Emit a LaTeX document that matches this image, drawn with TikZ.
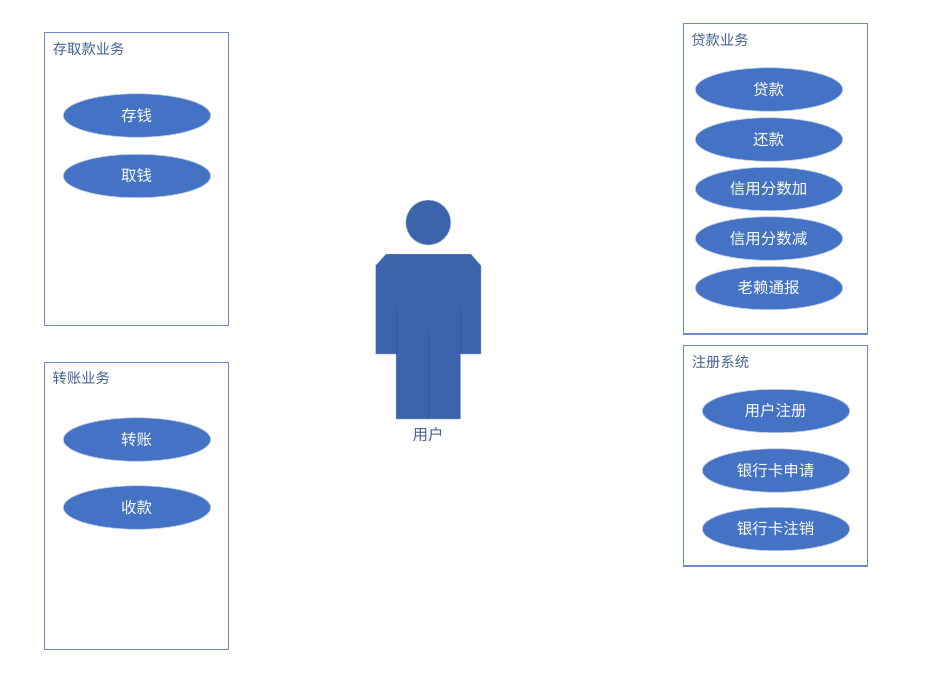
\documentclass[tikz,border=0pt]{standalone}
\usepackage{fontspec}
\setmainfont{Noto Sans CJK SC}
\usetikzlibrary{shapes.geometric}
\definecolor{fillblue}{HTML}{4472C4}
\definecolor{manblue}{HTML}{3C64AA}
\definecolor{manline}{HTML}{35598F}
\definecolor{boxline}{HTML}{6E8BBF}
\definecolor{titleblue}{HTML}{44608F}
\definecolor{halo}{HTML}{C4D1E8}
\tikzset{
  groupbox/.style={draw=boxline,line width=1.2pt,fill=white},
  usecase/.style={ellipse,draw=halo,line width=0.7pt,fill=fillblue,text=white,minimum width=147.5pt,minimum height=43.5pt,inner sep=0pt,font=\fontsize{15.5}{15.5}\selectfont},
  grouptitle/.style={anchor=west,text=titleblue,inner sep=0pt,font=\fontsize{14.3}{14.3}\selectfont},
  manpart/.style={fill=manblue,draw=halo,line width=0.4pt},
  manseam/.style={draw=manline,line width=0.8pt}
}
\begin{document}
\begin{tikzpicture}[x=1pt,y=-1pt]
\useasboundingbox[fill=white] (0,0) rectangle (931,683);
% group boxes
\draw[groupbox] (44.5,32.5) rectangle (228.5,325.5);
\draw[groupbox] (44.5,362.5) rectangle (228.5,649.5);
\draw[groupbox] (683.8,23.5) rectangle (867.8,334);
\draw[groupbox] (683.8,345.5) rectangle (867.8,566);
% titles
\node[grouptitle] (t1) at (52.7,49.2) {存取款业务};
\node[grouptitle] (t2) at (52.5,378.4) {转账业务};
\node[grouptitle] (t3) at (691.2,40.3) {贷款业务};
\node[grouptitle] (t4) at (691.7,362.3) {注册系统};
% use cases
\node[usecase] (a1) at (137,115.5) {\kern-1pt存钱};
\node[usecase] (a2) at (137,176) {\kern-1pt取钱};
\node[usecase] (b1) at (137,439.5) {\kern-1pt转账};
\node[usecase] (b2) at (137,507.5) {\kern-1pt收款};
\node[usecase] (c1) at (769,89.5) {\kern-1pt贷款};
\node[usecase] (c2) at (769,139.5) {\kern-1pt还款};
\node[usecase] (c3) at (769,189) {\kern-1pt信用分数加};
\node[usecase] (c4) at (769,238.5) {\kern-1pt信用分数减};
\node[usecase] (c5) at (769,288) {\kern-1pt老赖通报};
\node[usecase] (d1) at (776,411) {\kern-1pt用户注册};
\node[usecase] (d2) at (776,470.5) {\kern-1pt银行卡申请};
\node[usecase] (d3) at (776,529) {\kern-1pt银行卡注销};
% actor
\node[circle,manpart,minimum size=45pt,inner sep=0pt] (head) at (428.3,222.5) {};
\draw[manpart] (386,254) -- (471,254) -- (481,265.5) -- (481,354) -- (460.5,354) -- (460.5,419) -- (396,419) -- (396,354) -- (375.5,354) -- (375.5,265.5) -- cycle;
\draw[manseam] (396,308) -- (396,354);
\draw[manseam] (460.5,308) -- (460.5,354);
\draw[manseam] (428.5,331) -- (428.5,419);
\node[text=titleblue,inner sep=0pt,font=\fontsize{15.5}{15.5}\selectfont] (user) at (428,434.3) {用户};
\end{tikzpicture}
\end{document}
